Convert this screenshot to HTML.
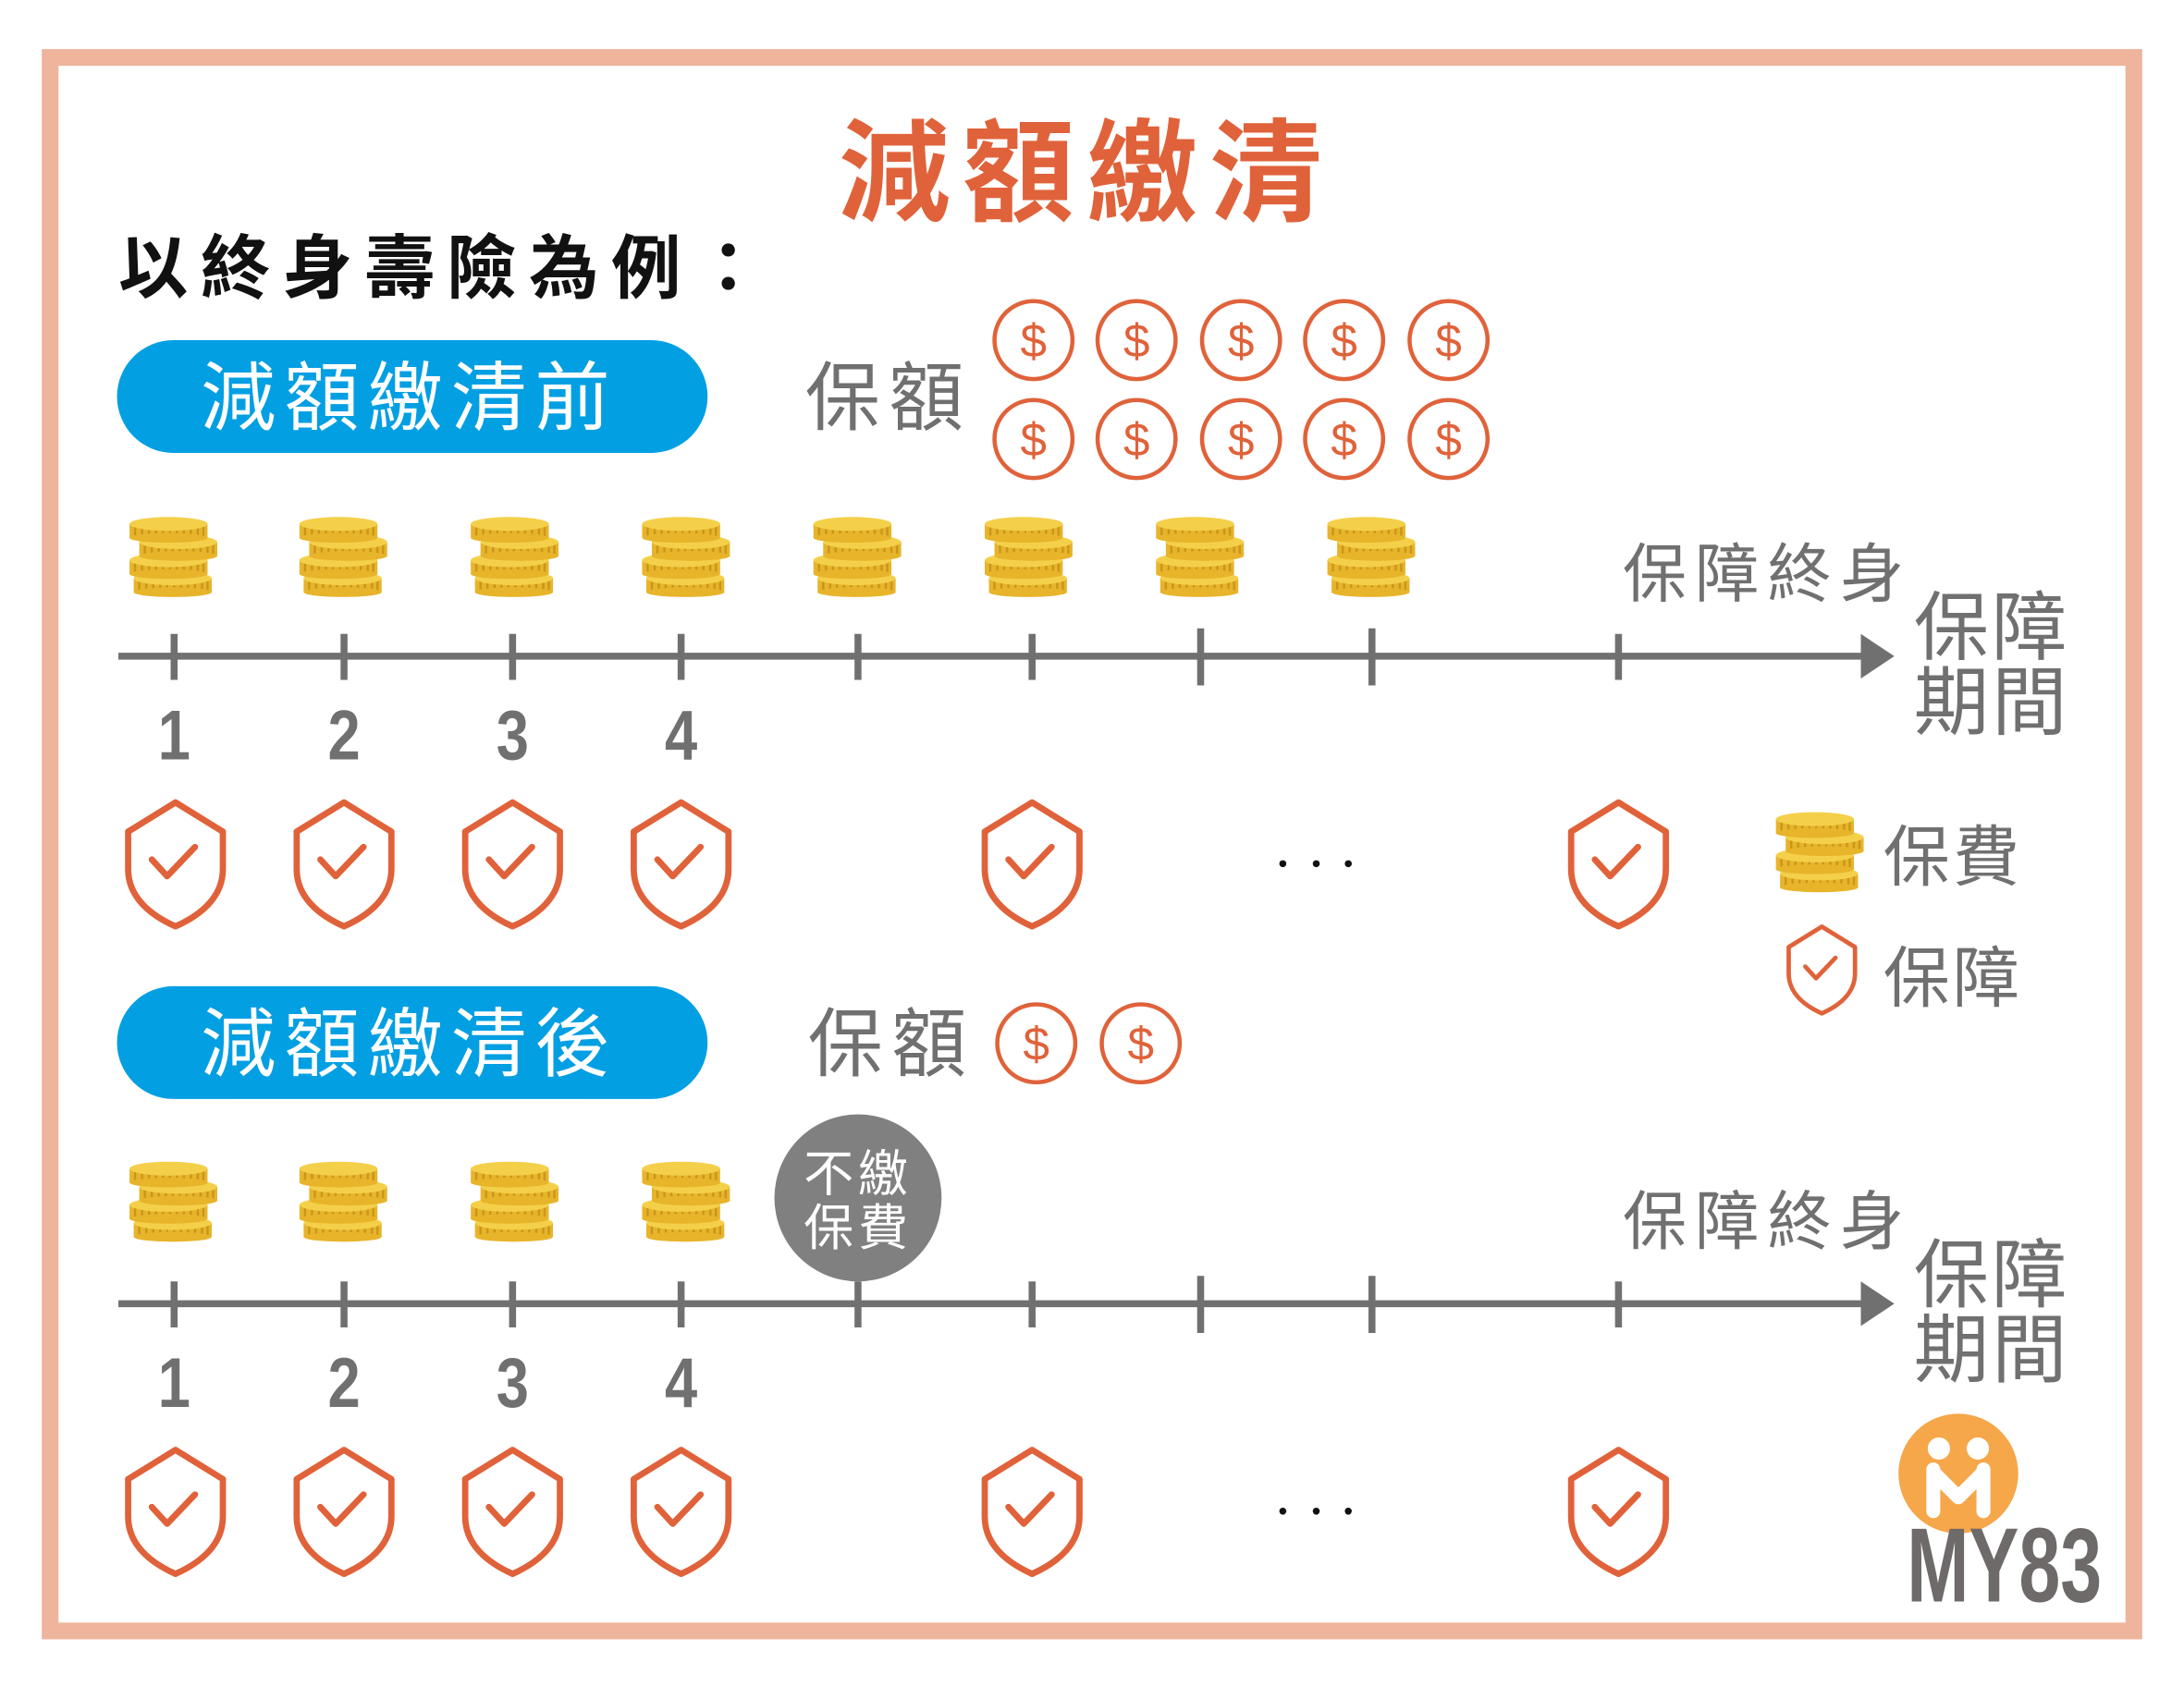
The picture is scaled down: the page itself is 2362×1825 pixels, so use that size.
<!DOCTYPE html>
<html><head><meta charset="utf-8"><style>
html,body{margin:0;padding:0;background:#fff;}
svg{display:block;}
text{font-family:"Liberation Sans","Noto Sans CJK TC",sans-serif;}
</style></head><body>
<svg width="2362" height="1825" viewBox="0 0 1568 1211" xmlns="http://www.w3.org/2000/svg">
<defs>
<g id="layer">
  <rect x="0" y="6" width="56" height="10" fill="#E7B42A"/>
  <path d="M4,7v8M9,7v9M14,7v9M19,7v9M24,7v9M29,7v9M34,7v9M39,7v9M44,7v9M49,7v9M53,7v8" stroke="#C9961C" stroke-width="1.6"/>
  <ellipse cx="28" cy="16" rx="28" ry="3.5" fill="#E7B42A"/>
  <ellipse cx="28" cy="6" rx="28" ry="5" fill="#F4D04A"/>
</g>
<g id="coins">
  <use href="#layer" x="3" y="39"/>
  <use href="#layer" x="0" y="26"/>
  <use href="#layer" x="7" y="13"/>
  <use href="#layer" x="0" y="0"/>
</g>
<g id="shield">
  <path d="M0,-44 L34,-23 L34,4 C34,24 18,37 0,45 C-18,37 -34,24 -34,4 L-34,-23 Z" fill="none" stroke="#E0623A" stroke-width="4.5" stroke-linejoin="round"/>
  <path d="M-17,-3 L-6,9 L14,-12" fill="none" stroke="#E0623A" stroke-width="4.5" stroke-linecap="round" stroke-linejoin="round"/>
</g>
<g id="dollar">
  <circle cx="0" cy="0" r="28" fill="#fff" stroke="#E0623A" stroke-width="3"/>
  <text x="0" y="12" font-size="34" fill="#E0623A" text-anchor="middle">$</text>
</g>
<g id="axis">
  <line x1="85" y1="0" x2="1342" y2="0" stroke="#707070" stroke-width="5"/>
  <path d="M1336,-16 L1360,0 L1336,16 Z" fill="#707070"/>
  <g stroke="#707070" stroke-width="5">
    <line x1="125" y1="-16" x2="125" y2="17"/><line x1="247" y1="-16" x2="247" y2="17"/>
    <line x1="368" y1="-16" x2="368" y2="17"/><line x1="489" y1="-16" x2="489" y2="17"/>
    <line x1="616" y1="-16" x2="616" y2="17"/><line x1="741" y1="-16" x2="741" y2="17"/>
    <line x1="862" y1="-20" x2="862" y2="21"/><line x1="985" y1="-20" x2="985" y2="21"/>
    <line x1="1162" y1="-16" x2="1162" y2="17"/>
  </g>
  <g font-size="42" font-weight="bold" fill="#707070" text-anchor="middle" transform="translate(0,74) scale(1,1.2)">
    <text x="125" y="0">1</text><text x="247" y="0">2</text><text x="368" y="0">3</text><text x="489" y="0">4</text>
  </g>
  <text x="1165" y="-43" font-size="46" fill="#707070" letter-spacing="6">保障終身</text>
  <text x="1374" y="-2" font-size="54" fill="#707070" letter-spacing="2">保障</text>
  <text x="1374" y="52" font-size="54" fill="#707070" letter-spacing="2">期間</text>
</g>
<g id="shields">
  <use href="#shield" x="126" y="0"/><use href="#shield" x="247" y="0"/>
  <use href="#shield" x="368" y="0"/><use href="#shield" x="489" y="0"/>
  <use href="#shield" x="741" y="0"/><use href="#shield" x="1162" y="0"/>
  <circle cx="921" cy="0" r="2.5" fill="#111"/><circle cx="945" cy="0" r="2.5" fill="#111"/><circle cx="968" cy="0" r="2.5" fill="#111"/>
</g>
</defs>

<rect x="36" y="41" width="1496" height="1130" fill="#fff" stroke="#EEB49C" stroke-width="12"/>

<text x="780" y="152" font-size="80" font-weight="bold" fill="#E0623A" text-anchor="middle" letter-spacing="9">減額繳清</text>
<text x="85" y="210" font-size="50" font-weight="bold" fill="#111" letter-spacing="9">以終身壽險為例：</text>

<!-- section 1 -->
<rect x="84" y="244" width="424" height="81" rx="40.5" fill="#039FE3"/>
<text x="294" y="304" font-size="54" fill="#fff" text-anchor="middle" letter-spacing="6">減額繳清前</text>
<text x="578" y="304" font-size="54" fill="#707070" letter-spacing="6">保額</text>
<use href="#dollar" x="742" y="244"/><use href="#dollar" x="816" y="244"/><use href="#dollar" x="891" y="244"/><use href="#dollar" x="965" y="244"/><use href="#dollar" x="1040" y="244"/>
<use href="#dollar" x="742" y="315"/><use href="#dollar" x="816" y="315"/><use href="#dollar" x="891" y="315"/><use href="#dollar" x="965" y="315"/><use href="#dollar" x="1040" y="315"/>
<use href="#coins" x="93" y="370"/><use href="#coins" x="215" y="370"/><use href="#coins" x="338" y="370"/><use href="#coins" x="461" y="370"/>
<use href="#coins" x="584" y="370"/><use href="#coins" x="707" y="370"/><use href="#coins" x="830" y="370"/><use href="#coins" x="953" y="370"/>
<use href="#axis" x="0" y="471"/>
<use href="#shields" x="0" y="620"/>

<!-- legend -->
<use href="#coins" x="1275" y="582"/>
<text x="1352" y="632" font-size="48" fill="#707070" letter-spacing="2">保費</text>
<g transform="translate(1308,696) scale(0.7)"><use href="#shield"/></g>
<text x="1352" y="719" font-size="48" fill="#707070" letter-spacing="2">保障</text>

<!-- section 2 -->
<rect x="84" y="708" width="424" height="81" rx="40.5" fill="#039FE3"/>
<text x="294" y="768" font-size="54" fill="#fff" text-anchor="middle" letter-spacing="6">減額繳清後</text>
<text x="580" y="768" font-size="54" fill="#707070" letter-spacing="6">保額</text>
<use href="#dollar" x="744" y="749"/><use href="#dollar" x="819" y="749"/>
<use href="#coins" x="93" y="833"/><use href="#coins" x="215" y="833"/><use href="#coins" x="338" y="833"/><use href="#coins" x="461" y="833"/>
<use href="#axis" x="0" y="936"/>
<circle cx="616" cy="860" r="60" fill="#808080"/>
<text x="616" y="855" font-size="36" fill="#fff" text-anchor="middle" letter-spacing="3">不繳</text>
<text x="616" y="894" font-size="36" fill="#fff" text-anchor="middle" letter-spacing="3">保費</text>
<use href="#shields" x="0" y="1085"/>

<!-- logo -->
<circle cx="1406" cy="1058" r="43" fill="#F5A74A"/>
<circle cx="1392" cy="1040" r="8" fill="#fff"/><circle cx="1420" cy="1040" r="8" fill="#fff"/>
<path d="M1388,1055 L1388,1085 M1388,1057 L1406,1075 L1424,1057 M1424,1055 L1424,1085" stroke="#fff" stroke-width="10" fill="none" stroke-linecap="round" stroke-linejoin="round"/>
<g transform="translate(1369,1150) scale(1,1.35)">
<text x="0" y="0" font-size="56" font-weight="bold" fill="#6e6a69" textLength="140" lengthAdjust="spacingAndGlyphs">MY83</text>
</g>
</svg>
</body></html>
